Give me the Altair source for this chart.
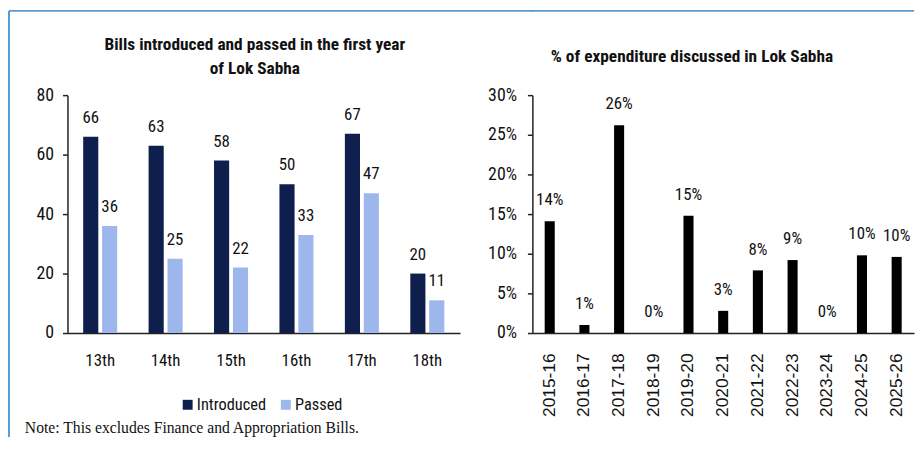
import altair as alt
import pandas as pd

# ---- data ----
terms = ["13th", "14th", "15th", "16th", "17th", "18th"]
introduced = [66, 63, 58, 50, 67, 20]
passed = [36, 25, 22, 33, 47, 11]
series_names = ["Introduced", "Passed"]
series_colors = ["#0E1F4D", "#9DB7EC"]

years = ["2015-16", "2016-17", "2017-18", "2018-19", "2019-20", "2020-21",
         "2021-22", "2022-23", "2023-24", "2024-25", "2025-26"]
pct = [14.1, 1.0, 26.2, 0.0, 14.8, 2.8, 7.9, 9.2, 0.0, 9.8, 9.6]

left_title = ["Bills introduced and passed in the first year", "of Lok Sabha"]
right_title = "% of expenditure discussed in Lok Sabha"
note = "Note: This excludes Finance and Appropriation Bills."

NARROW = "Roboto Condensed, Liberation Sans Narrow, Arial Narrow, sans-serif"
SANS = "Liberation Sans, Arial, sans-serif"
SERIF = "Liberation Serif, Times New Roman, serif"
BORDER = "#5B9BD5"
INK = "#111111"
GAP = 73  # space between the two plot areas
RW = 385  # right plot width

left_df = pd.DataFrame({
    "term": terms * 2,
    "series": [series_names[0]] * len(terms) + [series_names[1]] * len(terms),
    "value": introduced + passed,
})
right_df = pd.DataFrame({"year": years, "value": [p / 100 for p in pct]})
one = pd.DataFrame({"a": [0]})

# ---- left panel ----
xl = alt.X("term:N", sort=terms, title=None,
           scale=alt.Scale(paddingInner=0.48, paddingOuter=0.24),
           axis=alt.Axis(labelAngle=0, ticks=False, labelPadding=20,
                         labelFontSize=17, labelFont=NARROW))
xo = alt.XOffset("series:N", sort=series_names, scale=alt.Scale(paddingInner=0.2))
yl = alt.Y("value:Q", title=None,
           scale=alt.Scale(domain=[0, 80], nice=False),
           axis=alt.Axis(values=[0, 20, 40, 60, 80], tickSize=5, labelPadding=9,
                         labelFontSize=18, labelFont=NARROW))

bars_l = alt.Chart(left_df).mark_bar().encode(
    x=xl, xOffset=xo, y=yl,
    color=alt.Color("series:N", sort=series_names,
                    scale=alt.Scale(domain=series_names, range=series_colors),
                    legend=alt.Legend(orient="none", legendX=113, legendY=304,
                                      direction="horizontal", title=None,
                                      symbolType="square", symbolSize=100,
                                      symbolStrokeWidth=0, labelFontSize=16.5,
                                      labelFont=NARROW, labelColor=INK,
                                      columnPadding=11, labelOffset=1)),
)
text_l = alt.Chart(left_df).mark_text(
    baseline="alphabetic", dy=-14, fontSize=17, font=NARROW, color=INK
).encode(x=xl, xOffset=xo, y=yl, text=alt.Text("value:Q"))

vline = alt.Chart(one).mark_rule(color=BORDER, strokeWidth=2).encode(
    x=alt.value(-59), y=alt.value(-85), y2=alt.value(345))
hline_l = alt.Chart(one).mark_rule(color=BORDER, strokeWidth=2).encode(
    x=alt.value(-59), x2=alt.value(396 + GAP), y=alt.value(-85))
note_t = alt.Chart(one).mark_text(
    align="left", baseline="alphabetic", font=SERIF, fontSize=15.8, color=INK
).encode(x=alt.value(-43), y=alt.value(341), text=alt.value(note))
title_l = alt.Chart(one).mark_text(
    align="center", baseline="alphabetic", font=NARROW, fontSize=17.5,
    fontWeight="bold", lineHeight=25, color=INK
).encode(x=alt.value(189), y=alt.value(-46), text=alt.value(left_title))

left = alt.layer(bars_l, text_l, vline, hline_l, note_t, title_l).properties(
    width=396, height=240)

# ---- right panel ----
xr = alt.X("year:N", sort=years, title=None,
           scale=alt.Scale(paddingInner=0.71, paddingOuter=0.355),
           axis=alt.Axis(labelAngle=-90, ticks=False, labelPadding=20,
                         labelFontSize=17.5, labelFont=SANS))
yr = alt.Y("value:Q", title=None,
           scale=alt.Scale(domain=[0, 0.30], nice=False),
           axis=alt.Axis(values=[0, 0.05, 0.10, 0.15, 0.20, 0.25, 0.30],
                         format=".0%", tickSize=5, labelPadding=11,
                         labelFontSize=18, labelFont=NARROW))
bars_r = alt.Chart(right_df).mark_bar(color="#000000").encode(x=xr, y=yr)
text_r = alt.Chart(right_df).mark_text(
    baseline="alphabetic", dy=-16, fontSize=17, font=NARROW, color=INK
).encode(x=xr, y=yr, text=alt.Text("value:Q", format=".0%"))
hline_r = alt.Chart(one).mark_rule(color=BORDER, strokeWidth=2).encode(
    x=alt.value(-2), x2=alt.value(RW), y=alt.value(-85))
title_r = alt.Chart(one).mark_text(
    align="center", baseline="alphabetic", font=NARROW, fontSize=17.5,
    fontWeight="bold", color=INK
).encode(x=alt.value(161), y=alt.value(-33), text=alt.value(right_title))

right = alt.layer(bars_r, text_r, hline_r, title_r).properties(width=RW, height=240)

chart = alt.hconcat(left, right, spacing=GAP, bounds="flush").properties(
    padding=0
).configure_view(
    stroke=None
).configure_axis(
    grid=False, domainColor="#222", domainWidth=1.5, tickColor="#222",
    tickWidth=1.5, labelColor=INK
)

chart.save("out.html", embed_options={"renderer": "svg", "actions": False})
